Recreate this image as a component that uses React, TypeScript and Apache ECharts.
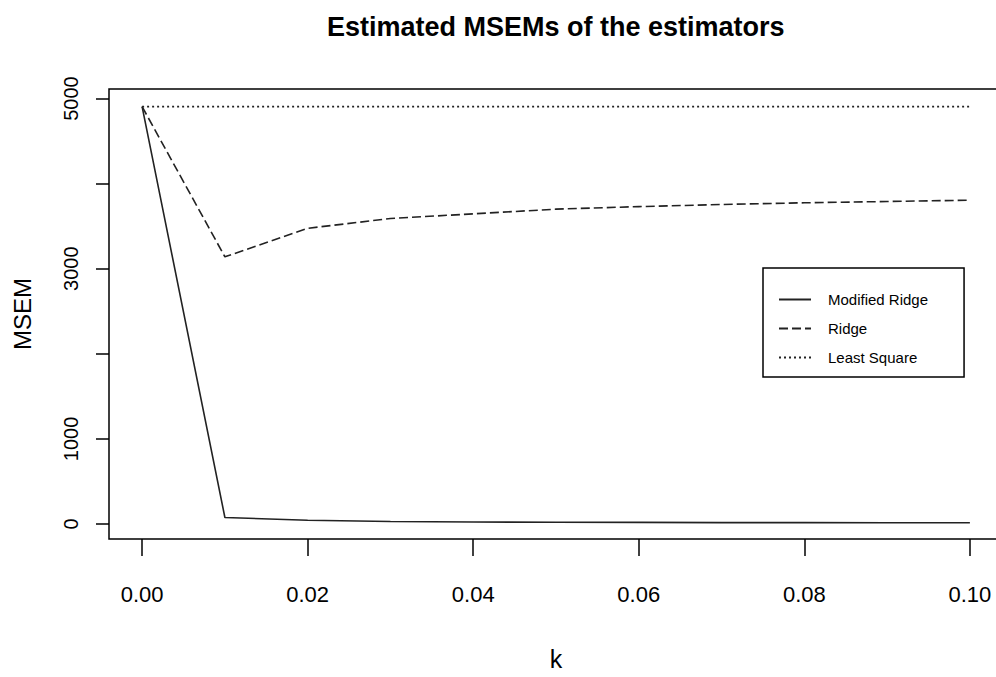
import React, { useEffect, useRef } from "react";
import * as echarts from "echarts";

const kValues = [0, 0.01, 0.02, 0.03, 0.04, 0.05, 0.06, 0.07, 0.08, 0.09, 0.1];
const modifiedRidge = [4905, 77, 45, 30, 24, 20, 19, 17, 16, 15, 15];
const ridge = [4905, 3140, 3475, 3590, 3645, 3700, 3730, 3755, 3775, 3790, 3805];
const leastSquare = [4905, 4905, 4905, 4905, 4905, 4905, 4905, 4905, 4905, 4905, 4905];
const xTicks = [0, 0.02, 0.04, 0.06, 0.08, 0.1];
const yTicks = [0, 1000, 2000, 3000, 4000, 5000];
const yLabelsShown = [0, 1000, 3000, 5000];

const SANS = "'Liberation Sans', Arial, sans-serif";

export default function App() {
  const ref = useRef<HTMLDivElement>(null);
  useEffect(() => {
    if (!ref.current) return;
    const chart = echarts.init(ref.current, null, { renderer: "svg" });
    const toPairs = (arr: number[]) => kValues.map((k, i) => [k, arr[i]]);
    const lineColor = "#222";
    chart.setOption({
      animation: false,
      backgroundColor: "#fff",
      title: {
        text: "Estimated MSEMs of the estimators",
        left: 322,
        top: 8,
        textStyle: { fontFamily: SANS, fontWeight: "bold", fontSize: 27, color: "#000" },
      },
      grid: {
        left: 109,
        top: 89,
        width: 894,
        height: 450,
        show: true,
        borderColor: "#000",
        borderWidth: 1.5,
        backgroundColor: "transparent",
        outerBoundsMode: "none",
        containLabel: false,
      },
      xAxis: {
        type: "value",
        min: -0.004,
        max: 0.104,
        name: "k",
        nameLocation: "middle",
        nameGap: 107,
        nameTextStyle: { fontFamily: SANS, fontSize: 25, color: "#000" },
        axisLine: { show: false, onZero: false },
        splitLine: { show: false },
        axisTick: {
          show: true,
          inside: false,
          length: 17,
          customValues: xTicks,
          lineStyle: { color: "#000", width: 1.5 },
        },
        axisLabel: {
          customValues: xTicks,
          margin: 44,
          fontFamily: SANS,
          fontSize: 22,
          color: "#000",
          formatter: (v: number) => v.toFixed(2),
        },
      },
      yAxis: {
        type: "value",
        min: -176,
        max: 5112,
        name: "MSEM",
        nameLocation: "middle",
        nameRotate: 90,
        nameGap: 75,
        nameTextStyle: { fontFamily: SANS, fontSize: 24, color: "#000" },
        axisLine: { show: false, onZero: false },
        splitLine: { show: false },
        axisTick: {
          show: true,
          inside: false,
          length: 13,
          customValues: yTicks,
          lineStyle: { color: "#000", width: 1.5 },
        },
        axisLabel: {
          customValues: yLabelsShown,
          rotate: 90,
          margin: 28,
          fontFamily: SANS,
          fontSize: 20,
          color: "#000",
          formatter: (v: number) => String(v),
        },
      },
      legend: {
        orient: "vertical",
        left: 763,
        top: 268,
        padding: [24, 36, 12, 15],
        borderColor: "#000",
        borderWidth: 1.5,
        backgroundColor: "#fff",
        itemWidth: 32,
        itemHeight: 18,
        itemGap: 14,
        itemStyle: { opacity: 0 },
        textStyle: {
          fontFamily: SANS,
          fontSize: 15,
          color: "#000",
          padding: [0, 0, 0, 12],
        },
        data: ["Modified Ridge", "Ridge", "Least Square"],
      },
      series: [
        {
          name: "Modified Ridge",
          type: "line",
          symbol: "none",
          data: toPairs(modifiedRidge),
          lineStyle: { color: lineColor, width: 1.6, type: "solid" },
          itemStyle: { color: lineColor },
        },
        {
          name: "Ridge",
          type: "line",
          symbol: "none",
          data: toPairs(ridge),
          lineStyle: { color: lineColor, width: 1.6, type: [9, 4] },
          itemStyle: { color: lineColor },
        },
        {
          name: "Least Square",
          type: "line",
          symbol: "none",
          data: toPairs(leastSquare),
          lineStyle: { color: lineColor, width: 1.6, type: [2, 3] },
          itemStyle: { color: lineColor },
        },
      ],
    });
    return () => chart.dispose();
  }, []);
  return (
    <div
      ref={ref}
      style={{ position: "fixed", left: 0, top: 0, width: 996, height: 677, background: "#fff" }}
    />
  );
}
